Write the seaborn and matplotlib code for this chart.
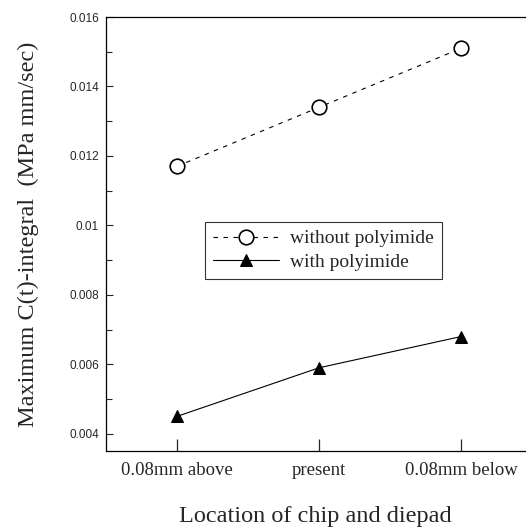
import pandas as pd
import seaborn as sns
import numpy as np
import matplotlib.pyplot as plt
from matplotlib.ticker import FixedLocator, FuncFormatter, MultipleLocator

# datos
locations = ['0.08mm above', 'present', '0.08mm below']
without_polyimide = [0.0117, 0.0134, 0.0151]
with_polyimide = [0.0045, 0.0059, 0.0068]
y_ticks = [0.004, 0.006, 0.008, 0.01, 0.012, 0.014, 0.016]

sns.set_style('ticks')
plt.rcParams['font.family'] = ['Liberation Serif', 'DejaVu Serif']

fig = plt.figure(figsize=(5.32, 5.32), dpi=100)
ax = fig.add_axes([0.199, 0.152, 0.788, 0.816])

sns.lineplot(x=locations, y=without_polyimide, ax=ax, color='black',
             marker='o', markersize=10.5, markerfacecolor='white',
             markeredgecolor='black', markeredgewidth=1.2,
             linestyle=(0, (4, 5)), linewidth=0.8, label='without polyimide')
sns.lineplot(x=locations, y=with_polyimide, ax=ax, color='black',
             marker='^', markersize=9, markerfacecolor='black',
             markeredgecolor='black', linestyle='-', linewidth=0.8,
             label='with polyimide')

ax.set_xlim(-0.5, 2.45)
ax.set_ylim(0.0035, 0.016)

ax.yaxis.set_major_locator(FixedLocator(y_ticks))
ax.yaxis.set_minor_locator(MultipleLocator(0.001))
ax.yaxis.set_major_formatter(FuncFormatter(lambda v, p: '%g' % v))
for lab in ax.get_yticklabels():
    lab.set_family(['Liberation Sans', 'DejaVu Sans'])
ax.tick_params(axis='y', which='major', direction='in', length=5, width=0.8,
               labelsize=8.5, pad=5)
ax.tick_params(axis='y', which='minor', direction='in', length=4, width=0.8)
ax.tick_params(axis='x', direction='in', length=9, width=0.9, labelsize=13.5,
               pad=8)

ax.set_xlabel('Location of chip and diepad', fontsize=17.5, labelpad=19)
ax.set_ylabel('Maximum C(t)-integral  (MPa mm/sec)', fontsize=17.5, labelpad=22)

sns.despine(ax=ax, top=False, right=True)
for s in ['left', 'bottom', 'top']:
    ax.spines[s].set_linewidth(0.9)
    ax.spines[s].set_color('black')

leg = ax.legend(loc='upper left', bbox_to_anchor=(0.236, 0.528), fontsize=14,
                frameon=True, fancybox=False, edgecolor='black',
                handlelength=3.4, borderpad=0.4, labelspacing=0.3,
                handletextpad=0.6, borderaxespad=0)
leg.get_frame().set_linewidth(0.8)

fig.savefig('out.png', dpi=100)
